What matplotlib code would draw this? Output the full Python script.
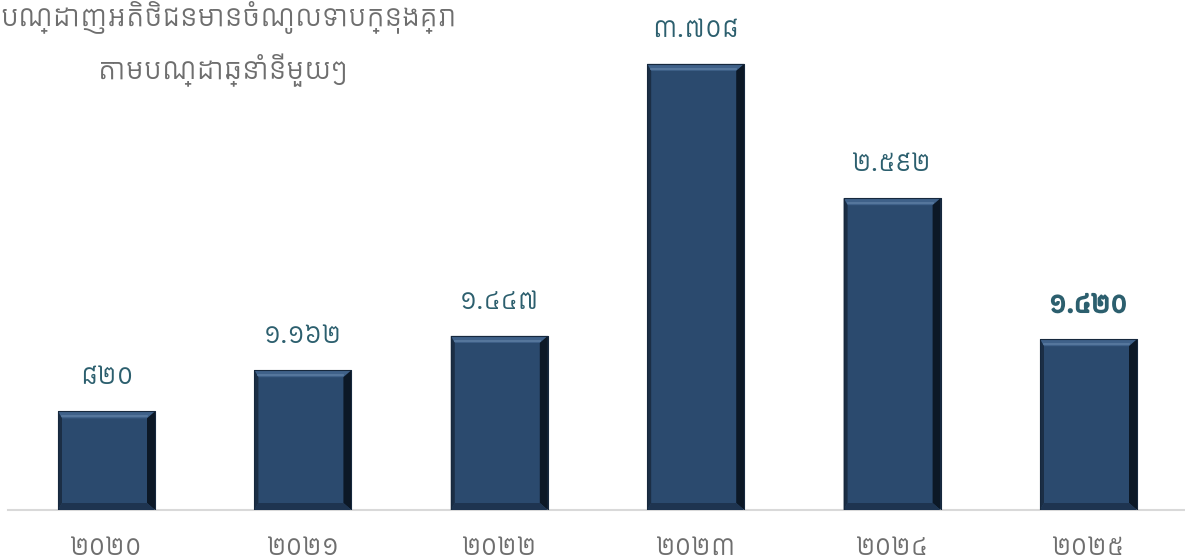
import matplotlib
matplotlib.use("Agg")
import matplotlib.pyplot as plt
import matplotlib.patheffects as pe

# data
years = ["២០២០", "២០២១", "២០២២", "២០២៣", "២០២៤", "២០២៥"]
values = [820, 1162, 1447, 3708, 2592, 1420]
value_labels = ["៨២០", "១.១៦២", "១.៤៤៧", "៣.៧០៨", "២.៥៩២", "១.៤២០"]
title_lines = ["បណ្ដាញអតិថិជនមានចំណូលទាបក្នុងគ្រា", "តាមបណ្ដាឆ្នាំនីមួយៗ"]

khmer = ["Kantumruy Pro", "Noto Sans Khmer", "DejaVu Sans"]
plt.rcParams["font.family"] = khmer

fig = plt.figure(figsize=(11.85, 5.6), dpi=100)
ax = fig.add_axes([8.3 / 1185, 50 / 560, 1178.4 / 1185, 510 / 560])

x = list(range(len(values)))
w = 0.494
bars = ax.bar(x, values, width=w, color="#2B4A6E", edgecolor="none", zorder=2)

ax.set_xlim(-0.5, len(values) - 0.5)
ax.set_ylim(0, 4239)

# bevel edges (sizes in pixels converted to data units)
px_x = 1 / 196.4
px_y = 4239 / 510
for b in bars:
    x0 = b.get_x()
    x1 = x0 + b.get_width()
    h = b.get_height()
    dx_r, dx_l, dy_t, dy_b = 8 * px_x, 4 * px_x, 7 * px_y, 7 * px_y
    # top (light)
    ax.fill([x0, x1, x1 - dx_r, x0 + dx_l], [h, h, h - dy_t, h - dy_t],
            color="#3F6189", lw=0, zorder=3)
    ax.plot([x0 + dx_l, x1 - dx_r], [h - dy_t * 0.7, h - dy_t * 0.7],
            color="#5A7BA0", lw=1.2, zorder=4)
    # right (very dark)
    ax.fill([x1, x1, x1 - dx_r, x1 - dx_r], [h, 0, dy_b, h - dy_t],
            color="#0C1826", lw=0, zorder=3)
    # left (dark)
    ax.fill([x0, x0, x0 + dx_l, x0 + dx_l], [h, 0, dy_b, h - dy_t],
            color="#1B2E45", lw=0, zorder=3)
    # bottom (dark)
    ax.fill([x0, x1, x1 - dx_r, x0 + dx_l], [0, 0, dy_b, dy_b],
            color="#1E3450", lw=0, zorder=3)
    # thin outline
    ax.plot([x0, x0, x1, x1], [0, h, h, 0], color="#16283D", lw=0.8, zorder=4)

for i, (v, lab) in enumerate(zip(values, value_labels)):
    t = ax.annotate(lab, (i, v), xytext=(0, 24.5), textcoords="offset points",
                    ha="center", va="center", fontsize=20, color="#2C5F6E")
    if i == len(values) - 1:
        # last year is shown bold
        t.set_path_effects([pe.withStroke(linewidth=1.3, foreground="#2C5F6E")])

for s in ["left", "right", "top"]:
    ax.spines[s].set_visible(False)
ax.spines["bottom"].set_color("#D9D9D9")
ax.spines["bottom"].set_linewidth(1.5)
ax.set_yticks([])
ax.set_xticks(x)
ax.set_xticklabels(years, fontsize=20, color="#6E6E6E")
ax.tick_params(axis="x", length=0, pad=18)

fig.text(229 / 1185, 1 - 18 / 560, title_lines[0], ha="center", va="center",
         fontsize=21, color="#6E6E6E")
fig.text(223 / 1185, 1 - 70 / 560, title_lines[1], ha="center", va="center",
         fontsize=21, color="#6E6E6E")

fig.savefig("out.png", dpi=100)
